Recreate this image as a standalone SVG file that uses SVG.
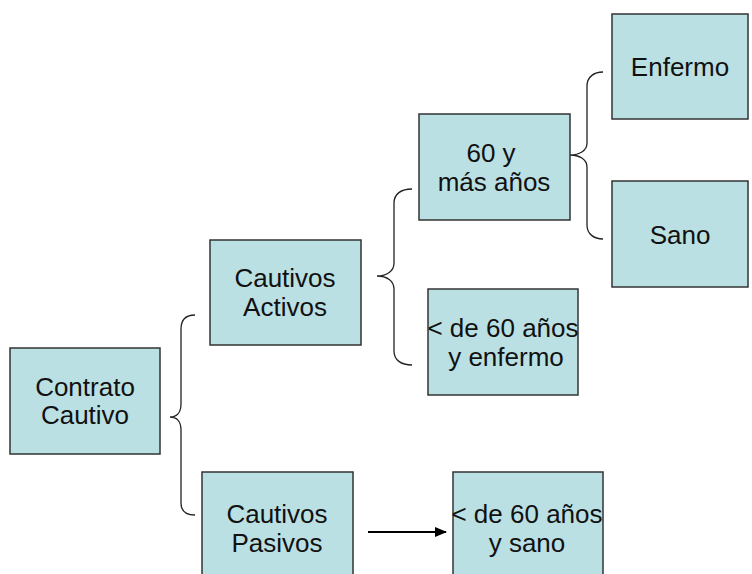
<svg xmlns="http://www.w3.org/2000/svg" width="752" height="574" viewBox="0 0 752 574">
<style>
.box{fill:#BBE0E3;stroke:#333333;stroke-width:1.5}
.t{font-family:"Liberation Sans",Arial,sans-serif;font-size:26px;fill:#111111;text-anchor:middle}
.brace{fill:none;stroke:#222222;stroke-width:1.3}
</style>
<defs>
<marker id="ah" markerWidth="12" markerHeight="10" refX="11" refY="5" orient="auto" markerUnits="userSpaceOnUse">
<path d="M0,0 L12,5 L0,10 Z" fill="#000"/>
</marker>
</defs>
<rect width="752" height="574" fill="#ffffff"/>
<g id="connectors">
<path class="brace" d="M195,315 C186,315 181,320 181,329 L181,404 C181,412 177,417 170,417 C177,417 181,422 181,430 L181,503 C181,511 186,515 195,515"/>
<path class="brace" d="M412,189 C401,189 394,194 394,203 L394,263 C394,271 387,276 377,276 C387,276 394,281 394,289 L394,351 C394,360 401,365 412,365"/>
<path class="brace" d="M603,72 C594,72 587,77 587,86 L587,143 C587,151 579,155 570,155 C579,155 587,159 587,167 L587,225 C587,234 594,239 603,239"/>
<line x1="368" y1="532" x2="446" y2="532" stroke="#000" stroke-width="2" marker-end="url(#ah)"/>
</g>
<g id="contrato">
<rect class="box" x="10" y="348" width="150" height="106"/>
<text class="t" x="85" y="396">Contrato</text>
<text class="t" x="85" y="424">Cautivo</text>
</g>
<g id="activos">
<rect class="box" x="210" y="240" width="151" height="105"/>
<text class="t" x="285" y="287">Cautivos</text>
<text class="t" x="285" y="316">Activos</text>
</g>
<g id="pasivos">
<rect class="box" x="202" y="472" width="151" height="110"/>
<text class="t" x="277" y="523">Cautivos</text>
<text class="t" x="277" y="552">Pasivos</text>
</g>
<g id="mas60">
<rect class="box" x="419" y="114" width="151" height="106"/>
<text class="t" x="491" y="162">60 y</text>
<text class="t" x="494" y="191">más años</text>
</g>
<g id="menos60enfermo">
<rect class="box" x="428" y="289" width="150" height="106"/>
<text class="t" x="503" y="337">&lt; de 60 años</text>
<text class="t" x="506" y="366">y enfermo</text>
</g>
<g id="menos60sano">
<rect class="box" x="453" y="472" width="150" height="110"/>
<text class="t" x="527" y="523">&lt; de 60 años</text>
<text class="t" x="527" y="552">y sano</text>
</g>
<g id="enfermo">
<rect class="box" x="612" y="14" width="136" height="105"/>
<text class="t" x="680" y="76">Enfermo</text>
</g>
<g id="sano">
<rect class="box" x="612" y="181" width="136" height="106"/>
<text class="t" x="680" y="244">Sano</text>
</g>
</svg>
